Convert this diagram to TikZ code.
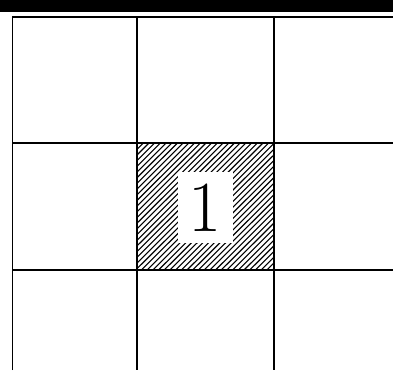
\documentclass[tikz,border=0pt]{standalone}
\begin{document}
\begin{tikzpicture}[x=1pt,y=-1pt,
  gridline/.style={line width=1.8pt,black},
  hatchline/.style={line width=1.1pt,black},
  labelbox/.style={fill=white,inner sep=0pt,minimum width=55pt,minimum height=71pt,font=\fontsize{72}{72}\selectfont}]
\useasboundingbox (0,0) rectangle (393,370);
\fill[white] (0,0) rectangle (393,370);
\fill[black] (0,0) rectangle (393,12);
% hatching of the centre cell
\begin{scope}
  \clip (137.3,143.3) rectangle (274.3,270);
  \foreach \i in {0,...,48} {
    \draw[hatchline] ({137.3-127+5.7*\i},270) -- ({137.3+5.7*\i},143.3);
  }
\end{scope}
\node[labelbox] (one) at (205,207.5) {1};
% grid
\draw[gridline] (12.5,370) -- (12.5,17) -- (393,17);
\draw[gridline] (137.3,17) -- (137.3,370);
\draw[gridline] (274.3,17) -- (274.3,370);
\draw[gridline] (12.5,143.3) -- (393,143.3);
\draw[gridline] (12.5,270) -- (393,270);
\end{tikzpicture}
\end{document}
